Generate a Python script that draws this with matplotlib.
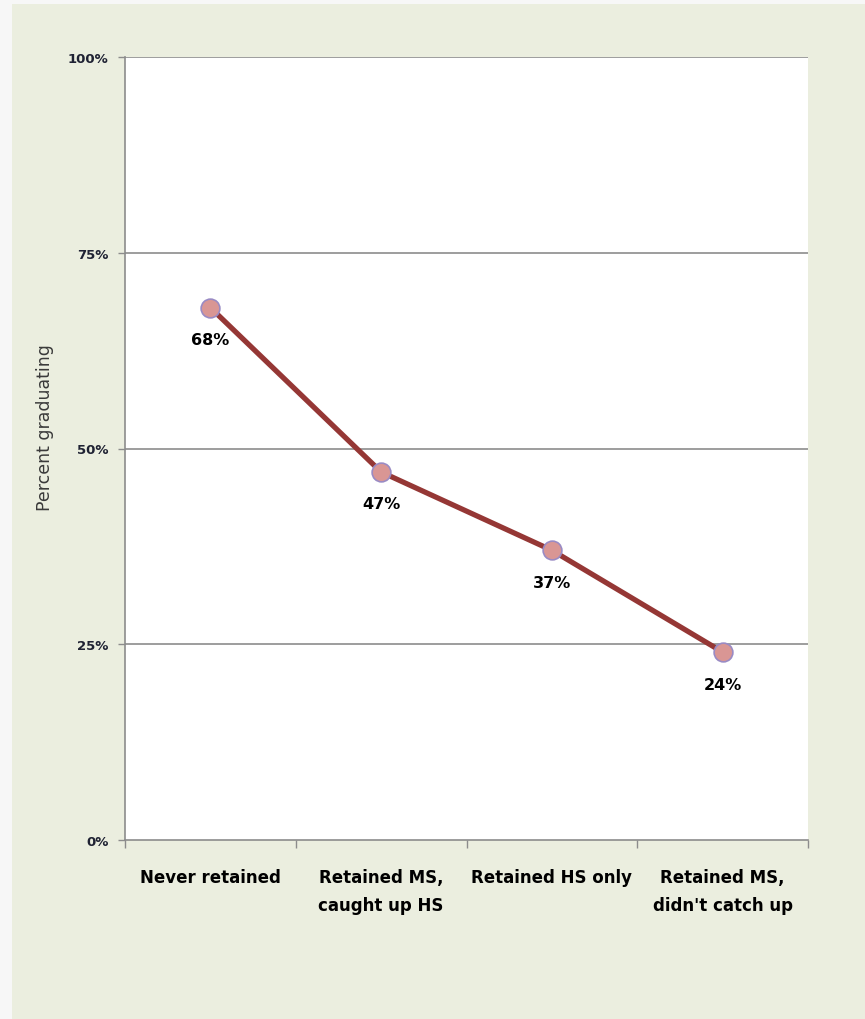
import matplotlib
matplotlib.use("Agg")
import matplotlib.pyplot as plt
from matplotlib.patches import Rectangle
import numpy as np

categories = ["Never retained", "Retained MS,\ncaught up HS", "Retained HS only",
              "Retained MS,\ndidn't catch up"]
pct_graduating = [68, 47, 37, 24]
y_ticks = [0, 25, 50, 75, 100]
y_tick_labels = ["0%", "25%", "50%", "75%", "100%"]

plt.rcParams['font.family'] = ['DejaVu Sans']

W, H = 865, 1020
fig = plt.figure(figsize=(W / 100, H / 100), dpi=100)
fig.patch.set_facecolor("#f7f7f7")
# chart panel background, kept behind the axes
panel = Rectangle((12 / W, 0), 1 - 12 / W, 1 - 5 / H, transform=fig.transFigure,
                  facecolor="#ebeedf", edgecolor="none", zorder=-10)
fig.add_artist(panel)

ax = fig.add_axes([125 / W, 1 - 841 / H, (808 - 125) / W, (841 - 58) / H])
ax.set_zorder(1)
ax.set_facecolor("white")

x = np.arange(len(categories))
ax.set_xlim(-0.5, len(categories) - 0.5)
ax.set_ylim(0, 100)

for yt in y_ticks[1:]:
    ax.axhline(yt, color="#8c8c8c", lw=1.2, zorder=1)

ax.plot(x, pct_graduating, color="#953735", lw=3.8, zorder=3,
        marker="o", markersize=13.5, markerfacecolor="#d99694",
        markeredgecolor="#9a8bc4", markeredgewidth=1.2, solid_capstyle="butt")

for xi, v in zip(x, pct_graduating):
    ax.annotate(f"{v}%", (xi, v), xytext=(0, -23), textcoords="offset points",
                ha="center", va="center", fontsize=11.5, fontweight="bold",
                color="black", zorder=4)

for side in ["top", "right"]:
    ax.spines[side].set_visible(False)
for side in ["left", "bottom"]:
    ax.spines[side].set_color("#8c8c8c")
    ax.spines[side].set_linewidth(1.2)

ax.set_yticks(y_ticks)
ax.set_yticklabels(y_tick_labels, fontsize=9.5, fontweight="bold", color="#1f2233")
ax.tick_params(axis="y", length=5, width=1.0, color="#8c8c8c", pad=7, direction="out")

ax.set_xticks(x)
ax.set_xticklabels(categories, fontsize=12, fontweight="bold", color="black",
                   linespacing=1.75)
ax.tick_params(axis="x", which="major", length=0, pad=20)
ax.set_xticks(np.arange(-0.5, len(categories), 1.0), minor=True)
ax.tick_params(axis="x", which="minor", length=6, width=1.0, color="#8c8c8c",
               direction="out")

ax.set_ylabel("Percent graduating", fontsize=12.5, color="#3a3a3a")
ax.yaxis.set_label_coords(-71 / 683, (841 - 428) / 783)

fig.savefig("out.png", dpi=100, facecolor=fig.get_facecolor())
